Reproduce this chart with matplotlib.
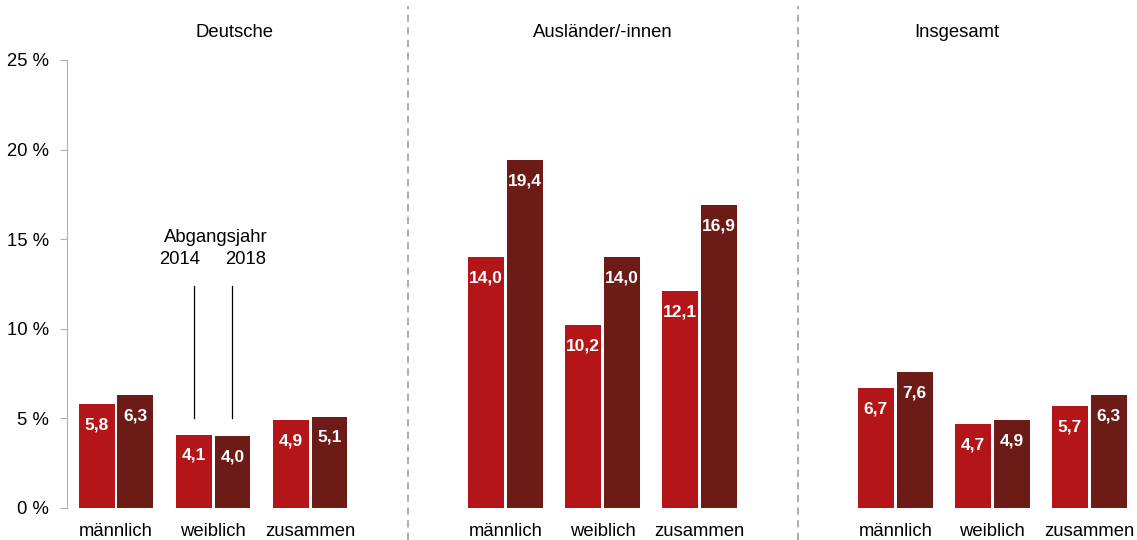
import matplotlib.pyplot as plt
import numpy as np

plt.rcParams['font.family'] = ['Liberation Sans', 'DejaVu Sans']

# data
panels = ['Deutsche', 'Ausländer/-innen', 'Insgesamt']
categories = ['männlich', 'weiblich', 'zusammen']
years = ['2014', '2018']
values_2014 = [[5.8, 4.1, 4.9], [14.0, 10.2, 12.1], [6.7, 4.7, 5.7]]
values_2018 = [[6.3, 4.0, 5.1], [19.4, 14.0, 16.9], [7.6, 4.9, 6.3]]
yticks = [0, 5, 10, 15, 20, 25]

col_2014 = '#B31519'
col_2018 = '#6C1B16'

# layout (in category units)
panel_step = 4.015
width = 0.37
shift = 0.2
fs = 13.3

fig = plt.figure(figsize=(11.37, 5.4), dpi=100)
ax = fig.add_axes([67 / 1137, 32 / 540, 1070 / 1137, 448 / 540])

ticks_x, ticks_lab = [], []
for p, name in enumerate(panels):
    base = p * panel_step + np.arange(len(categories))
    b1 = ax.bar(base - shift, values_2014[p], width, color=col_2014)
    b2 = ax.bar(base + shift, values_2018[p], width, color=col_2018)
    for bars, vals in ((b1, values_2014[p]), (b2, values_2018[p])):
        for rect, v in zip(bars, vals):
            ax.annotate(f'{v:.1f}'.replace('.', ','),
                        (rect.get_x() + rect.get_width() / 2, v),
                        xytext=(0, -15), textcoords='offset points',
                        ha='center', va='center', color='white',
                        fontsize=12.5, fontweight='bold')
    ticks_x += list(base)
    ticks_lab += categories

# panel titles
title_x = [1.22, 5.02, 8.66]
for name, tx in zip(panels, title_x):
    ax.text(tx, 26.55, name, ha='center', va='center', fontsize=fs)

# dashed separators
for p in range(1, len(panels)):
    xs = p * panel_step - (panel_step - 2) / 2
    ax.plot([xs, xs], [-1.8, 28.0], color='#A6A6A6', lw=1.3,
            ls=(0, (4, 3)), clip_on=False)

# legend annotation on Deutsche/weiblich
wx = 1
ax.plot([wx - shift, wx - shift], [5.0, 12.4], color='black', lw=0.9)
ax.plot([wx + shift, wx + shift], [5.0, 12.4], color='black', lw=0.9)
ax.text(wx + 0.03, 15.1, 'Abgangsjahr', ha='center', va='center', fontsize=fs)
ax.text(wx - 0.34, 13.85, years[0], ha='center', va='center', fontsize=fs)
ax.text(wx + 0.34, 13.85, years[1], ha='center', va='center', fontsize=fs)

ax.set_xlim(-0.505, 10.52)
ax.set_ylim(0, 25)
ax.set_yticks(yticks)
ax.set_yticklabels([f'{t} %' for t in yticks], fontsize=fs)
ax.set_xticks(ticks_x)
ax.set_xticklabels(ticks_lab, fontsize=fs)
ax.tick_params(axis='x', length=0, pad=11)
ax.tick_params(axis='y', length=5, color='#B0B0B0', pad=8)

for s in ['top', 'right', 'bottom']:
    ax.spines[s].set_visible(False)
ax.spines['left'].set_color('#B0B0B0')

fig.savefig('out.png', dpi=100)
